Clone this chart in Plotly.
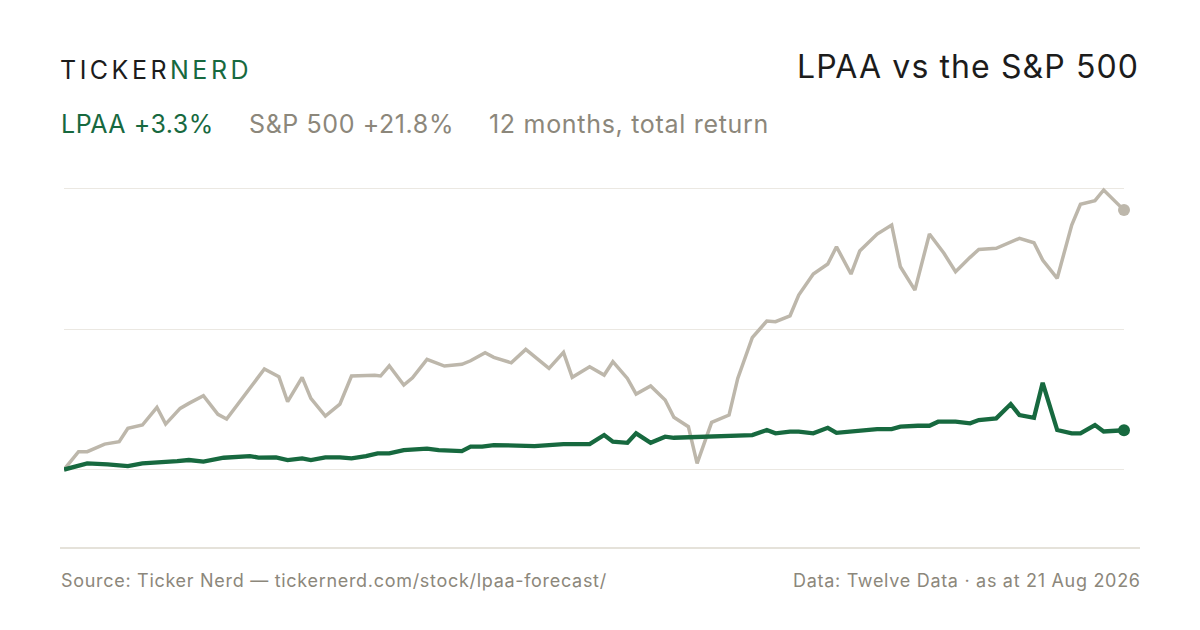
import pandas as pd
import plotly.graph_objects as go

# 12 months to 21 Aug 2026, total return in %
start = pd.Timestamp("2025-08-21")
end = pd.Timestamp("2026-08-21")

# S&P 500 (day offset from start, cumulative return %)
spx_days = [0, 5, 8, 14, 19, 22, 27, 32, 35, 40, 43, 48, 53, 56, 69, 74, 77, 82, 85, 90,
            95, 99, 107, 109, 112, 117, 120, 125, 131, 137, 140, 145, 148, 154, 159, 167, 172, 175, 181, 186,
            189, 194, 197, 202, 207, 210, 215, 218, 223, 229, 232, 237, 242, 245, 250, 253, 258, 263, 266, 271,
            274, 280, 285, 288, 293, 298, 303, 307, 312, 315, 321, 326, 329, 334, 337, 342, 347, 350, 355, 358, 365]
spx_ret = [0.0, 1.50, 1.50, 2.14, 2.34, 3.46, 3.74, 5.23, 3.82, 5.14, 5.56, 6.20, 4.64, 4.24, 8.45, 7.80, 5.70, 7.75, 5.98, 4.50,
           5.50, 7.86, 7.92, 7.86, 8.72, 7.10, 7.71, 9.26, 8.70, 8.84, 9.14, 9.82, 9.43, 8.97, 10.10, 8.50, 9.85, 7.75, 8.64, 7.94,
           9.06, 7.66, 6.34, 7.02, 5.84, 4.39, 3.60, 0.52, 3.97, 4.58, 7.66, 11.08, 12.48, 12.42, 12.92, 14.66, 16.43, 17.27, 18.72, 16.43,
           18.36, 19.79, 20.55, 17.04, 15.08, 19.79, 18.17, 16.62, 17.83, 18.50, 18.59, 19.14, 19.43, 19.06, 17.61, 16.07, 20.55, 22.29, 22.59, 23.49, 21.8]

# LPAA
lpaa_days = [0, 8, 15, 20, 22, 27, 33, 39, 43, 48, 55, 61, 64, 67, 73, 77, 82, 85, 90, 95,
             99, 104, 108, 112, 117, 121, 125, 129, 137, 140, 144, 148, 157, 162, 172, 181, 186, 189, 194, 197,
             202, 207, 210, 222, 229, 237, 242, 245, 250, 253, 258, 263, 266, 271, 275, 280, 285, 288, 294, 298,
             301, 307, 312, 315, 321, 326, 329, 334, 337, 342, 347, 350, 355, 358, 365]
lpaa_ret = [0.0, 0.52, 0.44, 0.29, 0.29, 0.52, 0.66, 0.71, 0.80, 0.66, 0.99, 1.13, 1.13, 1.01, 1.03, 0.80, 0.94, 0.80, 1.03, 1.03,
            0.94, 1.13, 1.36, 1.36, 1.64, 1.70, 1.76, 1.64, 1.55, 1.92, 1.92, 2.06, 2.06, 1.97, 2.14, 2.14, 2.90, 2.34, 2.25, 3.04,
            2.25, 2.76, 2.67, 2.76, 2.90, 2.90, 3.32, 3.04, 3.18, 3.18, 3.04, 3.51, 3.09, 3.18, 3.32, 3.40, 3.40, 3.60, 3.68, 3.68,
            4.02, 4.02, 3.88, 4.16, 4.30, 5.50, 4.58, 4.35, 7.29, 3.32, 3.04, 3.04, 3.74, 3.20, 3.3]

grid_vals = [0, 11.8, 23.6]

GREEN = "#17693f"
GREY_LINE = "#bdb7ab"
GREY_TEXT = "#8c877b"
INK = "#1c1c1c"
FONT = "Inter"

spx_x = [start + pd.Timedelta(days=d) for d in spx_days]
lpaa_x = [start + pd.Timedelta(days=d) for d in lpaa_days]

# page body has an 8px margin, so the figure is drawn 8px smaller and offset
OFF = 8
W, H = 1200 - OFF, 630 - OFF
L, R, T, B = 56, 76, 162, 90


def px(x, y):
    # window pixel position -> paper coords
    x, y = x - OFF, y - OFF
    return (x - L) / (W - L - R), (H - B - y) / (H - T - B)


fig = go.Figure()
fig.add_trace(go.Scatter(x=spx_x, y=spx_ret, mode="lines", line=dict(color=GREY_LINE, width=3.5),
                         hoverinfo="skip", cliponaxis=False))
fig.add_trace(go.Scatter(x=[spx_x[-1]], y=[spx_ret[-1]], mode="markers",
                         marker=dict(color=GREY_LINE, size=12), hoverinfo="skip", cliponaxis=False))
fig.add_trace(go.Scatter(x=lpaa_x, y=lpaa_ret, mode="lines", line=dict(color=GREEN, width=4.3),
                         hoverinfo="skip", cliponaxis=False))
fig.add_trace(go.Scatter(x=[lpaa_x[-1]], y=[lpaa_ret[-1]], mode="markers",
                         marker=dict(color=GREEN, size=12), hoverinfo="skip", cliponaxis=False))

anns = []


def note(text, x, y, size, color, xanchor="left", spacing=0.0):
    ax, ay = px(x, y)
    if spacing:
        text = '<span style="letter-spacing:%spx">%s</span>' % (spacing, text)
    anns.append(dict(text=text, x=ax, y=ay, xref="paper", yref="paper", xanchor=xanchor,
                     yanchor="middle", showarrow=False, font=dict(family=FONT, size=size, color=color)))


note('<span style="letter-spacing:3.5px">TICKER</span><span style="letter-spacing:3.5px;color:%s">NERD</span>' % GREEN,
     58, 70, 25, INK)
note("LPAA vs the S&P 500", 1141, 67, 32, INK, "right", 1.1)
note("LPAA +3.3%", 59, 124, 25, GREEN, spacing=0.5)
note("S&P 500 +21.8%", 247, 124, 25, GREY_TEXT, spacing=0.6)
note("12 months, total return", 487, 124, 25, GREY_TEXT, spacing=0.7)
note("Source: Ticker Nerd — tickernerd.com/stock/lpaa-forecast/", 59, 580, 18, GREY_TEXT, spacing=0.7)
note("Data: Twelve Data · as at 21 Aug 2026", 1143, 580, 18, GREY_TEXT, "right", 0.7)

x0, y0 = px(60, 548)
x1, _ = px(1140, 548)

fig.update_layout(
    width=W, height=H,
    margin=dict(l=L, r=R, t=T, b=B),
    paper_bgcolor="white", plot_bgcolor="white",
    showlegend=False,
    font=dict(family=FONT),
    annotations=anns,
    shapes=[dict(type="line", xref="paper", yref="paper", x0=x0, x1=x1, y0=y0, y1=y0,
                 line=dict(color="#ddd8ce", width=1.5))],
    xaxis=dict(range=[start, end], showgrid=False, showticklabels=False, zeroline=False,
               showline=False, ticks=""),
    yaxis=dict(range=[-5.92, 25.17], tickvals=grid_vals, showticklabels=False, gridcolor="#ebe8e2",
               gridwidth=1.2, zeroline=False, showline=False, ticks=""),
)

fig.write_html("out.html")
